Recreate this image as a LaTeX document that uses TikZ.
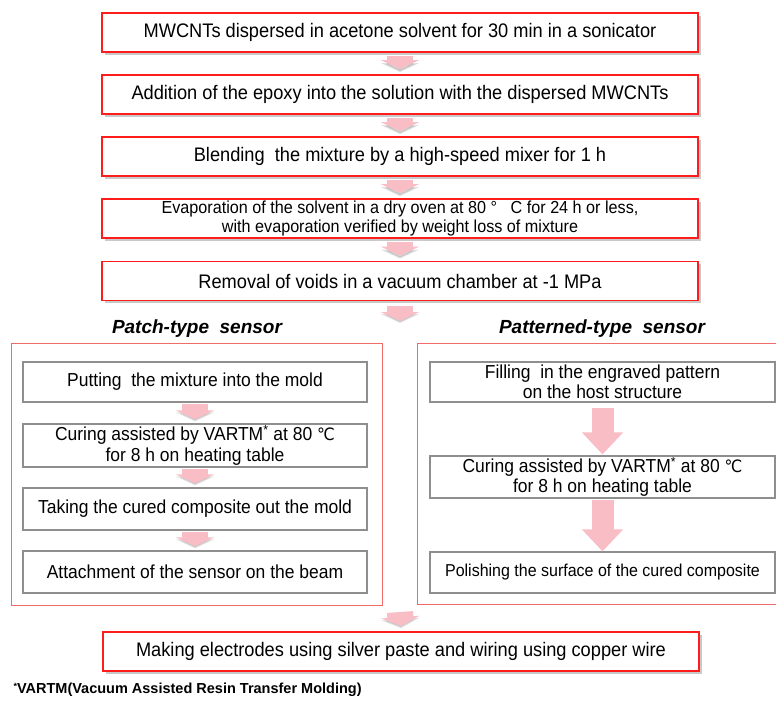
\documentclass[tikz,border=0pt]{standalone}
\usepackage{fontspec}
\setmainfont{Liberation Sans}
\newfontfamily\cond[FakeStretch=0.93]{Liberation Sans}
\newfontfamily\djv[FakeStretch=0.93]{DejaVu Sans}
\usetikzlibrary{arrows.meta,shadows}
\definecolor{boxred}{HTML}{FF1C1C}
\definecolor{outerred}{HTML}{F26B6B}
\definecolor{innergray}{HTML}{8E8E8E}
\definecolor{arrowpink}{HTML}{F8BDC5}
\begin{document}
\begin{tikzpicture}[x=1pt,y=-1pt,
  redbox/.style={draw=boxred, line width=1.8pt, fill=white, minimum width=596pt, minimum height=39pt,
    inner sep=0pt, align=center, font=\cond\fontsize{19.6}{22}\selectfont,
    drop shadow={shadow xshift=2.5pt, shadow yshift=-2.5pt, opacity=0.35, fill=black!60}},
  graybox/.style={draw=innergray, line width=1.3pt, fill=white, inner sep=0pt, align=center,
    font=\cond\fontsize{18.8}{20.5}\selectfont},
  leftbox/.style={graybox, minimum width=344pt},
  rightbox/.style={graybox, minimum width=345pt},
  outerbox/.style={draw=outerred, line width=0.9pt},
  flowshadow/.style={draw=black, opacity=0.12, line width=26pt, -{Triangle[width=38pt,length=9pt]}},
  flow/.style={draw=arrowpink, line width=26pt, -{Triangle[width=38pt,length=9pt]}},
  bigflow/.style={draw=arrowpink, line width=22pt, -{Triangle[width=40pt,length=22pt]}},
  sectitle/.style={font=\fontsize{19}{22}\selectfont\bfseries\itshape},
  foot/.style={font=\fontsize{14.5}{16}\selectfont\bfseries}
]
\clip (0,0) rectangle (776,705);
\fill[white] (0,0) rectangle (776,705);

% top chain
\node[redbox] (b1) at (400,32.5) {MWCNTs dispersed in acetone solvent for 30 min in a sonicator};
\node[redbox] (b2) at (400,94.5) {Addition of the epoxy into the solution with the dispersed MWCNTs};
\node[redbox] (b3) at (400,156.5) {Blending\ \ the mixture by a high-speed mixer for 1 h};
\node[redbox, font=\cond\fontsize{17.4}{19}\selectfont] (b4) at (400,218.5)
  {Evaporation of the solvent in a dry oven at 80 °\ \ \ C for 24 h or less,\\with evaporation verified by weight loss of mixture};
\node[redbox] (b5) at (400,281) {Removal of voids in a vacuum chamber at -1 MPa};

% outer frames
\draw[outerbox] (11,343) rectangle (382,605);
\draw[outerbox] (417,343) rectangle (800,604);
\node[sectitle] (tl) at (197,329) {Patch-type\ \ sensor};
\node[sectitle] (tr) at (602,329) {Patterned-type\ \ sensor};

% left column
\node[leftbox, minimum height=40pt] (l1) at (195,382) {Putting\ \ the mixture into the mold};
\node[leftbox, minimum height=43pt] (l2) at (195,445.5) {Curing assisted by VARTM\textsuperscript{*} at 80 {\djv\fontsize{17}{20}\selectfont ℃}\\for 8 h on heating table};
\node[leftbox, minimum height=42pt] (l3) at (195,509) {Taking the cured composite out the mold};
\node[leftbox, minimum height=42pt] (l4) at (195,572) {Attachment of the sensor on the beam};

% right column
\node[rightbox, minimum height=40pt] (r1) at (602.5,382) {Filling\ \ in the engraved pattern\\on the host structure};
\node[rightbox, minimum height=42pt] (r2) at (602.5,477) {Curing assisted by VARTM\textsuperscript{*} at 80 {\djv\fontsize{17}{20}\selectfont ℃}\\for 8 h on heating table};
\node[rightbox, minimum height=41pt, font=\cond\fontsize{17.2}{19}\selectfont] (r3) at (602.5,572.5) {Polishing the surface of the cured composite};

% final
\node[redbox, minimum width=596pt] (bf) at (401,651.5) {Making electrodes using silver paste and wiring using copper wire};

\node[foot, anchor=west] (fn) at (10,690) {\raisebox{4.5pt}{\fontsize{9}{9}\selectfont *}VARTM(Vacuum Assisted Resin Transfer Molding)};

\coordinate (splitend) at (400,321);
\coordinate (joinstart) at (400,612);

% arrows: shadows
\foreach \a/\b in {b1/b2,b2/b3,b3/b4,b4/b5}{
  \draw[flowshadow] ([yshift=-5pt]\a.south) -- ([yshift=2pt]\b.north);
}
\draw[flowshadow] ([yshift=-7pt]b5.south) -- ([yshift=-2pt]splitend);
\draw[flowshadow] ([yshift=-2pt]joinstart) -- ([yshift=3pt]bf.north);
\foreach \a/\b in {l1/l2,l2/l3,l3/l4}{
  \draw[flowshadow] ([yshift=-3pt]\a.south) -- ([yshift=2pt]\b.north);
}

% arrows
\foreach \a/\b in {b1/b2,b2/b3,b3/b4,b4/b5}{
  \draw[flow] ([yshift=-3pt]\a.south) -- ([yshift=5pt]\b.north);
}
\draw[flow] ([yshift=-5pt]b5.south) -- (splitend);
\draw[flow] (joinstart) -- ([yshift=5pt]bf.north);
\foreach \a/\b in {l1/l2,l2/l3,l3/l4}{
  \draw[flow] ([yshift=-1pt]\a.south) -- ([yshift=4pt]\b.north);
}
\draw[bigflow] ([yshift=-5pt]r1.south) -- ([yshift=1pt]r2.north);
\draw[bigflow] ([yshift=-1pt]r2.south) -- ([yshift=0pt]r3.north);
\end{tikzpicture}
\end{document}
